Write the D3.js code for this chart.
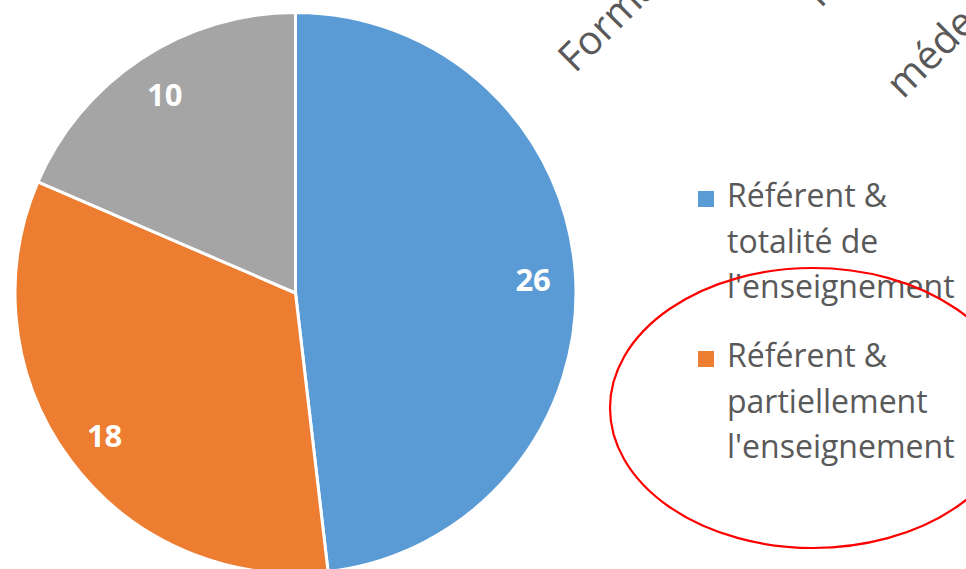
<!DOCTYPE html>
<html>
<head>
<meta charset="utf-8">
<script src="https://cdn.jsdelivr.net/npm/d3@7"></script>
<style>
  html, body { margin: 0; padding: 0; background: #ffffff; overflow: hidden; }
  svg { display: block; }
</style>
</head>
<body>
<svg id="chart" width="966" height="569"></svg>
<script>
// ---- Data ----
const categories = [
  "Référent & totalité de l'enseignement",
  "Référent & partiellement l'enseignement",
  "Autre"
];
const values = [26, 18, 10];
const colors = ["#5B9BD5", "#ED7D31", "#A5A5A5"];
const legendLines = [
  ["Référent &", "totalité de", "l'enseignement"],
  ["Référent &", "partiellement", "l'enseignement"]
];
const titleWords = ["Formation", "pour", "médecins"];

// ---- Drawing ----
const svg = d3.select("#chart");
const cx = 295.5, cy = 293, R = 280.5;
const textGray = "#595959";
const font = "'Open Sans', 'Noto Sans', sans-serif";

const pie = d3.pie().sort(null).value(d => d.value).startAngle(0).endAngle(2 * Math.PI);
const data = categories.map((c, i) => ({ name: c, value: values[i], color: colors[i] }));
const arcs = pie(data);

const arc = d3.arc().innerRadius(0).outerRadius(R);
const labelArc = d3.arc().innerRadius(238).outerRadius(238);

const g = svg.append("g").attr("transform", `translate(${cx},${cy})`);

g.selectAll("path.slice")
  .data(arcs)
  .enter().append("path")
  .attr("class", "slice")
  .attr("d", arc)
  .attr("fill", d => d.data.color)
  .attr("stroke", "#ffffff")
  .attr("stroke-width", 3)
  .attr("stroke-linejoin", "round");

g.selectAll("text.lbl")
  .data(arcs)
  .enter().append("text")
  .attr("class", "lbl")
  .attr("transform", d => `translate(${labelArc.centroid(d)})`)
  .attr("text-anchor", "middle")
  .attr("dominant-baseline", "central")
  .attr("font-family", font)
  .attr("font-weight", "bold")
  .attr("font-size", 31)
  .attr("fill", "#ffffff")
  .text(d => d.data.value);

// ---- Title fragments (rotated, mostly off-canvas) ----
const titleG = svg.append("g");
const titlePos = [[575, 74], [814, 2], [903, 100]];
titleWords.forEach((w, i) => {
  titleG.append("text")
    .attr("transform", `translate(${titlePos[i][0]},${titlePos[i][1]}) rotate(-45)`)
    .attr("font-family", font)
    .attr("font-size", 40)
    .attr("fill", textGray)
    .text(w);
});

// ---- Legend ----
const legend = svg.append("g");
const legX = 698, textX = 727;
const firstBaselines = [207, 367];
const lineH = 45.5;
legendLines.forEach((lines, i) => {
  const by = firstBaselines[i];
  legend.append("rect")
    .attr("x", legX)
    .attr("y", by - 16)
    .attr("width", 16)
    .attr("height", 16)
    .attr("fill", colors[i]);
  lines.forEach((ln, j) => {
    legend.append("text")
      .attr("x", textX)
      .attr("y", by + j * lineH)
      .attr("font-family", font)
      .attr("font-size", 32)
      .attr("fill", textGray)
      .text(ln);
  });
});

// ---- Red annotation ellipse ----
svg.append("ellipse")
  .attr("cx", 813)
  .attr("cy", 408)
  .attr("rx", 203)
  .attr("ry", 140)
  .attr("fill", "none")
  .attr("stroke", "#FF0000")
  .attr("stroke-width", 2.2);
</script>
</body>
</html>
